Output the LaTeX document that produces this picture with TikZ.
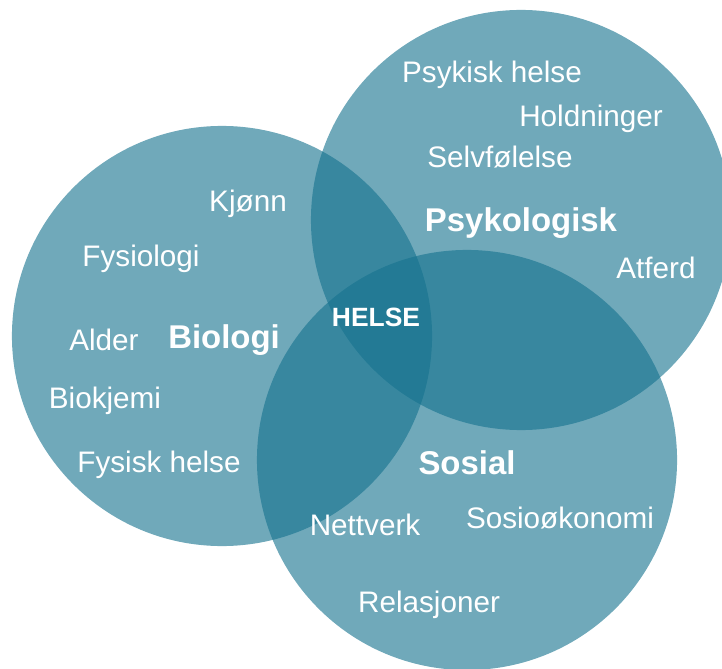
\documentclass[tikz,border=0pt]{standalone}
\usepackage{fontspec}
\setmainfont{Liberation Sans}
\definecolor{vennteal}{RGB}{21,114,142}

\begin{document}
\begin{tikzpicture}[x=0.025cm,y=-0.025cm,
  area/.style={circle,fill=vennteal,fill opacity=0.61,draw=none,minimum size=10.5cm,inner sep=0pt},
  item/.style={text=white,anchor=base,inner sep=0pt,font=\fontsize{21.1}{25}\selectfont},
  head/.style={text=white,anchor=base,inner sep=0pt,font=\fontsize{23.4}{28}\selectfont\bfseries}]
\useasboundingbox (0,0) rectangle (722,669);

% the three circles
\node[area] (bio) at (222,336) {};
\node[area] (psyk) at (521,220) {};
\node[area] (sos) at (467,460) {};

% Psykologisk
\node[item] (psykhelse) at (492,83) {Psykisk helse};
\node[item] (hold) at (591,127) {Holdninger};
\node[item] (selv) at (500,168) {Selvfølelse};
\node[head] (psyklab) at (521,232) {Psykologisk};
\node[item] (atferd) at (656,278) {Atferd};

% Biologi
\node[item] (kjonn) at (248,212) {Kjønn};
\node[item] (fysio) at (141,266) {Fysiologi};
\node[item] (alder) at (104,350) {Alder};
\node[head] (biolab) at (224,348) {Biologi};
\node[item] (biokj) at (105,408) {Biokjemi};
\node[item] (fyshelse) at (159,472) {Fysisk helse};

% Sosial
\node[head] (soslab) at (467,474) {Sosial};
\node[item] (nett) at (365,535) {Nettverk};
\node[item] (sosok) at (560,528) {Sosioøkonomi};
\node[item] (rel) at (429,612) {Relasjoner};

% midten
\node[text=white,anchor=base,inner sep=0pt,font=\fontsize{18.8}{22}\selectfont\bfseries] (helse) at (376,326) {HELSE};

\end{tikzpicture}
\end{document}
